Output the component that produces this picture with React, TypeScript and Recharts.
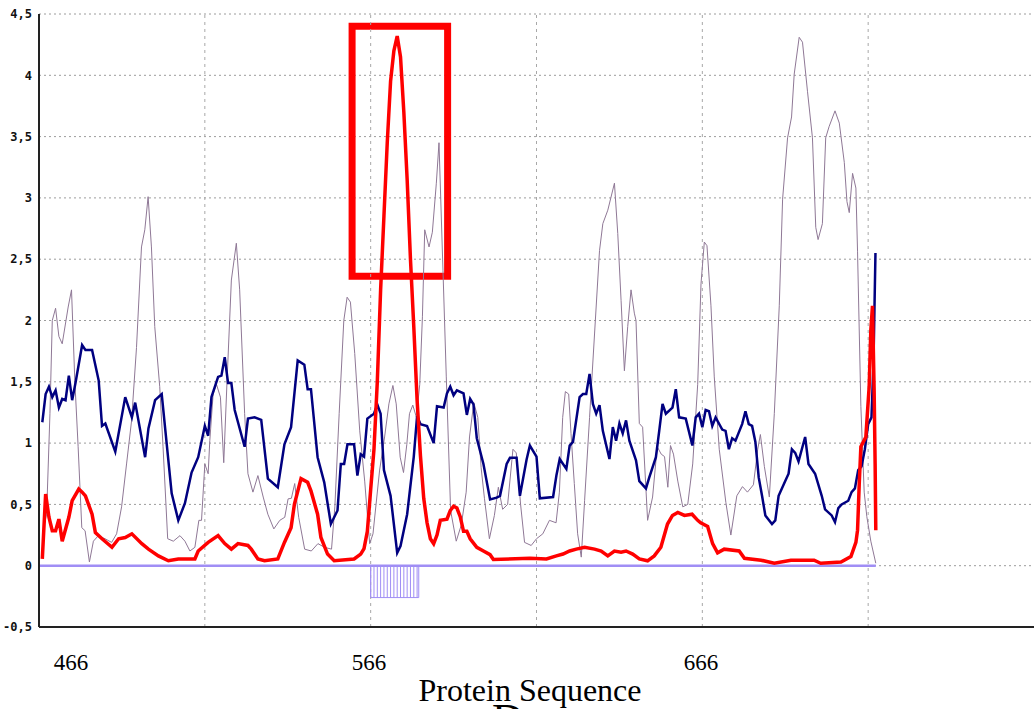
import React from 'react';
import { ComposedChart, Line, XAxis, YAxis, CartesianGrid, ReferenceLine, ReferenceArea } from 'recharts';

// residue, score pairs
const blueTrace: [number, number][] = [
  [467, 1.17], [468, 1.4], [469, 1.46], [470, 1.375], [471, 1.43], [472, 1.29], [473, 1.36], [474, 1.35],
  [475, 1.55], [476, 1.35], [477, 1.49], [479, 1.8], [480, 1.76], [482, 1.76], [484, 1.51], [485, 1.14],
  [486, 1.16], [489, 0.93], [492, 1.375], [494, 1.21], [495, 1.33], [498, 0.885], [499, 1.12], [501, 1.35],
  [503, 1.4], [506, 0.59], [508, 0.37], [510, 0.51], [512, 0.76], [514, 0.885], [516, 1.14], [517, 1.06],
  [518, 1.375], [520, 1.54], [521, 1.55], [522, 1.7], [523, 1.49], [524, 1.49], [525, 1.27], [528, 0.97],
  [529, 1.2], [531, 1.21], [533, 1.19], [535, 0.71], [538, 0.64], [540, 0.99], [542, 1.13], [544, 1.675],
  [546, 1.64], [547, 1.44], [548, 1.44], [550, 0.885], [552, 0.68], [554, 0.34], [556, 0.45], [557, 0.83],
  [558, 0.83], [559, 0.99], [561, 0.99], [562, 0.735], [563, 0.91], [564, 0.89], [565, 1.2], [567, 1.24],
  [568, 1.315], [569, 1.24], [570, 0.78], [572, 0.57], [574, 0.105], [575, 0.16], [577, 0.42], [579, 0.89],
  [580, 1.22], [581, 1.155], [583, 1.14], [585, 1.0], [586, 1.3], [588, 1.29], [589, 1.405], [590, 1.46],
  [591, 1.39], [592, 1.43], [594, 1.405], [595, 1.23], [596, 1.36], [597, 1.315], [598, 1.04], [600, 0.83],
  [602, 0.54], [604, 0.555], [605, 0.57], [607, 0.83], [608, 0.88], [610, 0.88], [611, 0.57], [613, 0.865],
  [614, 0.98], [616, 0.89], [617, 0.55], [621, 0.56], [622, 0.735], [623, 0.87], [625, 0.79], [626, 0.98],
  [627, 1.01], [629, 1.375], [630, 1.4], [631, 1.4], [632, 1.565], [633, 1.32], [634, 1.24], [635, 1.31],
  [636, 1.1], [638, 0.87], [639, 1.13], [640, 1.02], [641, 1.16], [642, 1.08], [643, 1.185], [644, 1.02],
  [646, 0.86], [647, 0.69], [649, 0.63], [650, 0.72], [652, 0.885], [653, 1.1], [654, 1.32], [655, 1.24],
  [657, 1.29], [658, 1.44], [659, 1.21], [661, 1.2], [663, 0.98], [664, 1.21], [665, 1.24], [666, 1.13],
  [667, 1.27], [668, 1.26], [669, 1.14], [670, 1.21], [672, 1.11], [673, 1.1], [674, 0.95], [675, 1.04],
  [676, 1.02], [678, 1.155], [679, 1.26], [680, 1.155], [681, 1.14], [682, 1.01], [683, 0.72], [684, 0.57],
  [685, 0.41], [687, 0.34], [688, 0.37], [689, 0.57], [691, 0.69], [692, 0.75], [693, 0.95], [694, 0.92],
  [695, 0.85], [696, 0.95], [697, 1.05], [698, 0.83], [700, 0.75], [702, 0.57], [703, 0.46], [705, 0.41],
  [706, 0.355], [707, 0.47], [708, 0.5], [710, 0.53], [711, 0.6], [712, 0.63], [713, 0.78], [714, 0.81],
  [715, 0.95], [716, 1.155], [717, 1.21], [717.6, 1.65], [718.2, 2.55],
];

const redTrace: [number, number][] = [
  [467, 0.055], [468, 0.585], [469, 0.395], [470, 0.285], [471, 0.285], [472, 0.38], [473, 0.2], [475, 0.395],
  [476, 0.53], [478, 0.625], [479, 0.6], [480, 0.57], [482, 0.42], [483, 0.27], [485, 0.22], [488, 0.15],
  [490, 0.22], [492, 0.23], [494, 0.26], [497, 0.18], [499, 0.135], [502, 0.08], [505, 0.04], [508, 0.055],
  [513, 0.055], [514, 0.12], [517, 0.19], [520, 0.245], [522, 0.18], [524, 0.135], [526, 0.18], [529, 0.165],
  [530, 0.135], [532, 0.055], [534, 0.04], [538, 0.055], [540, 0.19], [542, 0.31], [543, 0.5], [545, 0.71],
  [547, 0.68], [548, 0.61], [550, 0.42], [551, 0.23], [553, 0.095], [555, 0.04], [561, 0.055], [563, 0.095],
  [564, 0.14], [565, 0.28], [566, 0.62], [567, 0.95], [568, 1.5], [569, 2.25], [570, 2.85], [571, 3.45],
  [572, 3.95], [573, 4.2], [574, 4.32], [575, 4.15], [576, 3.7], [577, 3.15], [578, 2.5], [579, 1.95],
  [580, 1.35], [581, 0.9], [582, 0.55], [583, 0.35], [584, 0.22], [585, 0.18], [586, 0.25], [587, 0.37],
  [589, 0.38], [590, 0.45], [591, 0.485], [592, 0.47], [593, 0.4], [594, 0.28], [595, 0.28], [596, 0.22],
  [598, 0.15], [600, 0.12], [602, 0.09], [603, 0.05], [614, 0.06], [619, 0.055], [622, 0.08], [624, 0.095],
  [626, 0.12], [628, 0.135], [630.5, 0.15], [633.5, 0.135], [635.5, 0.12], [637.5, 0.08], [639.5, 0.12],
  [641.5, 0.11], [643, 0.12], [645, 0.095], [647, 0.055], [649.5, 0.04], [651.5, 0.08], [653.5, 0.15],
  [655.5, 0.34], [657, 0.41], [658.6, 0.435], [660.6, 0.41], [662.9, 0.42], [664.6, 0.37], [665.5, 0.35],
  [667.6, 0.32], [669.1, 0.18], [670.6, 0.105], [672.6, 0.135], [677.1, 0.12], [678.7, 0.06], [683.7, 0.045],
  [687.7, 0.02], [692.7, 0.045], [699.7, 0.045], [701.7, 0.02], [707.8, 0.03], [710.8, 0.075], [712.3, 0.19],
  [712.8, 0.29], [713.3, 0.66], [713.8, 0.97], [715.3, 1.05], [716.3, 1.46], [716.8, 1.92], [717.3, 2.12],
  [717.8, 1.43], [718.1, 0.83], [718.3, 0.29],
];

const mauveTrace: [number, number][] = [
  [467.3, 0.3], [468.3, 0.42], [469.3, 1.24], [470, 2.0], [471, 2.1], [472, 1.87], [473, 1.81], [474.8, 2.11],
  [475.8, 2.25], [476.8, 1.51], [477.8, 0.97], [478.9, 0.31], [479.9, 0.285], [481.2, 0.03], [482.4, 0.2],
  [483.9, 0.245], [485.9, 0.22], [487.9, 0.19], [489.4, 0.26], [490.9, 0.48], [492.4, 0.83], [493.9, 1.18],
  [495.4, 1.78], [496.9, 2.6], [497.9, 2.74], [498.9, 3.01], [499.9, 2.6], [500.9, 1.95], [502.4, 1.46],
  [503.4, 0.97], [504.8, 0.22], [506.5, 0.2], [508.5, 0.245], [510, 0.2], [511.5, 0.12], [513, 0.15],
  [514.2, 0.37], [515, 0.37], [516, 0.83], [517, 0.75], [517.5, 1.02], [518.5, 1.4], [519.5, 1.48],
  [520.7, 1.375], [521.7, 0.84], [522.7, 1.51], [524, 2.33], [525.5, 2.63], [526.5, 2.25], [528, 1.24],
  [529, 0.75], [530.5, 0.6], [532, 0.735], [533.6, 0.56], [535, 0.42], [536.8, 0.3], [538.6, 0.37],
  [540.1, 0.395], [541.1, 0.545], [542.1, 0.55], [543.1, 0.67], [544.3, 0.395], [546.1, 0.135], [548.1, 0.12],
  [550.1, 0.18], [552.1, 0.15], [554.2, 0.135], [555.2, 0.48], [556.5, 1.24], [557.9, 2.0], [558.9, 2.19],
  [559.9, 2.15], [561.2, 1.73], [562.7, 1.1], [564.2, 0.69], [565.7, 0.18], [566.7, 0.26], [568.7, 0.78],
  [570.2, 1.05], [571.5, 1.32], [572.7, 1.47], [573.7, 1.32], [574.9, 0.885], [575.9, 0.76], [576.9, 0.99],
  [577.7, 1.24], [578.7, 1.31], [579.8, 1.21], [580.8, 1.48], [581.6, 2.03], [582.3, 2.74], [583.6, 2.6],
  [584.6, 2.72], [585.8, 3.12], [586.6, 3.45], [587.8, 2.41], [588.8, 1.54], [590.1, 0.45], [591.8, 0.2],
  [593.3, 0.33], [594.8, 0.6], [595.8, 1.05], [597.1, 1.33], [598.3, 1.21], [599.3, 0.8], [600.3, 0.55],
  [601.8, 0.22], [603.3, 0.41], [604.5, 0.64], [605.8, 0.46], [607.3, 0.5], [608.9, 0.95], [609.9, 0.92],
  [611.2, 0.5], [612.4, 0.19], [614.4, 0.165], [616, 0.22], [617.9, 0.26], [619.9, 0.37], [621.9, 0.35],
  [622.9, 0.6], [623.9, 1.21], [624.7, 1.42], [625.7, 1.4], [626.4, 1.08], [627.4, 0.67], [628.4, 0.26],
  [629.5, 0.07], [630.5, 0.53], [632, 1.21], [633.5, 1.89], [635, 2.57], [636, 2.79], [637.5, 2.9],
  [639.5, 3.12], [640.5, 2.71], [641.5, 2.165], [642.5, 1.59], [643.5, 1.95], [644.5, 2.25], [645.5, 2.06],
  [646, 2.0], [647, 1.16], [648, 1.13], [649.5, 0.37], [651, 0.56], [652.4, 0.97], [653.6, 0.91],
  [654.6, 0.89], [655.6, 0.64], [656.4, 0.98], [657.3, 0.91], [658.6, 0.69], [660.1, 0.48], [661.6, 0.5],
  [663.1, 0.83], [664.6, 1.48], [665.6, 2.3], [666.6, 2.64], [667.4, 2.61], [668.6, 2.12], [669.6, 1.54],
  [671.1, 0.95], [673.1, 0.515], [674.6, 0.25], [676.4, 0.57], [678.1, 0.645], [679.6, 0.6], [681.4, 0.66],
  [682.7, 0.95], [683.5, 1.07], [684.7, 0.81], [686.2, 0.56], [687.7, 1.24], [689.2, 2.12], [690.2, 2.99],
  [691.7, 3.49], [692.9, 3.66], [693.7, 4.01], [695.2, 4.31], [696.2, 4.27], [697.7, 3.87], [699.2, 3.49],
  [700.2, 2.76], [700.9, 2.66], [702.2, 2.79], [703.2, 3.49], [704.2, 3.58], [706, 3.71], [707.3, 3.61],
  [708.8, 3.29], [709.6, 2.97], [710.3, 2.88], [711.3, 3.2], [712.3, 3.08], [712.8, 2.56], [713.8, 1.3],
  [714.8, 0.6], [715.6, 0.4], [716.8, 0.2], [718.3, 0.02],
];

const baselineSpan = [466, 718.3];
const hatchResidues = [566, 567, 568, 569, 570, 571, 572, 573, 574, 575, 576, 577, 578, 579, 580];
const hatchEnd = 580.5;
const hatchDepth = -0.26;

const boxResidues = [560.4, 589.2];
const boxScores = [2.36, 4.4];

const yTicks = [-0.5, 0, 0.5, 1, 1.5, 2, 2.5, 3, 3.5, 4, 4.5];
const gridResidues = [516, 566, 616, 666, 716];
const minorTicks = Array.from({ length: 61 }, (_, i) => 466 + i * 5);
const seqLabels = ['466', '566', '666'];
const axisTitle = 'Protein Sequence';

const rows = (t: [number, number][]) => t.map(([r, v]) => ({ r, v }));

const App = () => {
  const labelX = [71, 369, 701];
  return (
    <div style={{ position: 'absolute', left: 0, top: 0, width: 1035, height: 709, overflow: 'hidden', background: '#fff' }}>
      <ComposedChart width={1035} height={640} margin={{ top: 14, right: 1, bottom: 13, left: 0 }}>
        <CartesianGrid vertical={false} stroke="#9c9c9c" strokeDasharray="2 3" />
        <XAxis
          dataKey="r"
          type="number"
          domain={[466, 766]}
          ticks={minorTicks}
          interval={0}
          allowDataOverflow
          height={13}
          mirror
          tick={false}
          tickSize={4}
          tickLine={{ stroke: '#333', strokeWidth: 1 }}
          axisLine={{ stroke: '#222', strokeWidth: 2 }}
        />
        <YAxis
          type="number"
          domain={[-0.5, 4.5]}
          ticks={yTicks}
          interval={0}
          width={39}
          tickLine={false}
          tickSize={0}
          tickMargin={7}
          axisLine={{ stroke: '#222', strokeWidth: 2 }}
          tickFormatter={(v: number) => String(v).replace('.', ',')}
          tick={{ fontFamily: 'DejaVu Sans Mono', fontWeight: 'bold', fontSize: 12, fill: '#111' }}
        />
        {gridResidues.map((g) => (
          <ReferenceLine key={g} x={g} stroke="#a8a8a8" strokeDasharray="3 4" />
        ))}

        <ReferenceArea x1={hatchResidues[0]} x2={hatchEnd} y1={hatchDepth} y2={0} fill="none" stroke="#a08ef5" strokeWidth={1} />
        {hatchResidues.map((h) => (
          <ReferenceLine key={h} segment={[{ x: h, y: 0 }, { x: h, y: hatchDepth }]} stroke="#a08ef5" strokeWidth={1} />
        ))}
        <Line
          data={baselineSpan.map((r) => ({ r, v: 0 }))}
          dataKey="v"
          stroke="#a08ef5"
          strokeWidth={2.5}
          dot={false}
          isAnimationActive={false}
        />
        <Line data={rows(mauveTrace)} dataKey="v" type="linear" stroke="#8f7896" strokeWidth={1} dot={false} isAnimationActive={false} />
        <Line data={rows(blueTrace)} dataKey="v" type="linear" stroke="#000080" strokeWidth={2.5} dot={false} isAnimationActive={false} />
        <Line data={rows(redTrace)} dataKey="v" type="linear" stroke="#ff0000" strokeWidth={3.5} dot={false} isAnimationActive={false} />

        <ReferenceArea
          x1={boxResidues[0]}
          x2={boxResidues[1]}
          y1={boxScores[0]}
          y2={boxScores[1]}
          fill="none"
          fillOpacity={0}
          stroke="#ff0000"
          strokeWidth={7}
          ifOverflow="visible"
        />
      </ComposedChart>

      <svg width={1035} height={709} style={{ position: 'absolute', left: 0, top: 0, pointerEvents: 'none' }}>
        {seqLabels.map((s, i) => (
          <text key={s} x={labelX[i]} y={670} textAnchor="middle" fontFamily="Liberation Serif" fontSize={23} fill="#000">
            {s}
          </text>
        ))}
        <text x={530} y={701} textAnchor="middle" fontFamily="Liberation Serif" fontSize={32} fill="#000">
          {axisTitle}
        </text>
        <text x={508} y={734} textAnchor="middle" fontFamily="Liberation Serif" fontSize={44} fill="#000">
          D
        </text>
      </svg>
    </div>
  );
};

export default App;
